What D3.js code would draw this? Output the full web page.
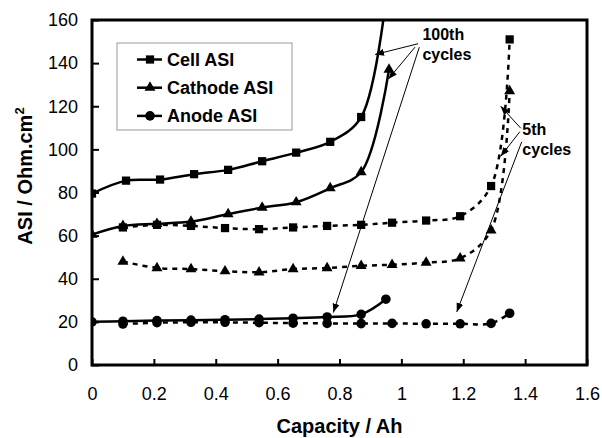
<!DOCTYPE html>
<html>
<head>
<meta charset="utf-8">
<script src="https://cdn.jsdelivr.net/npm/d3@7"></script>
<style>
  body { margin: 0; background: #fff; }
  text { font-family: Arial, "Liberation Sans", sans-serif; }
  .tick text { font-size: 18px; }
  .axis_title { font-size: 20px; font-weight: bold; }
  .legend_text { font-size: 18px; font-weight: bold; }
  .note { font-size: 16px; font-weight: bold; }
</style>
</head>
<body>
<svg id="chart" width="602" height="438"></svg>
<script>

// capacity (Ah) and ASI (Ohm.cm2)
let cap_100th_cell    = [0, 0.11, 0.22, 0.33, 0.44, 0.55, 0.66, 0.77, 0.87, 0.96]
let asi_100th_cell    = [79.5, 85.5, 86, 88.5, 90.5, 94.5, 98.5, 103.5, 115, 182]
let cap_100th_cathode = [0, 0.10, 0.21, 0.32, 0.44, 0.55, 0.66, 0.77, 0.87, 0.96]
let asi_100th_cathode = [60.5, 64.5, 65.5, 66.5, 70, 73, 75.5, 82, 89.5, 137]
let cap_100th_anode   = [0, 0.10, 0.21, 0.32, 0.43, 0.54, 0.65, 0.76, 0.87, 0.95]
let asi_100th_anode   = [20, 20.3, 20.6, 20.8, 21, 21.3, 21.7, 22.3, 23.5, 30.5]

let cap_5th      = [0.10, 0.21, 0.32, 0.43, 0.54, 0.65, 0.76, 0.87, 0.97, 1.08, 1.19, 1.29, 1.35]
let asi_5th_cell    = [63.8, 65, 64.5, 63.5, 63, 63.8, 64.5, 65, 66, 67, 69, 83, 151]
let asi_5th_cathode = [48, 45, 44.5, 43.5, 43, 44.5, 45, 46, 46.5, 47.5, 49.5, 62.5, 127]
let asi_5th_anode   = [19, 19.6, 19.8, 19.8, 19.6, 19.4, 19.3, 19.2, 19.3, 19.1, 19.1, 19.3, 24]

let x_ticks = [0, 0.2, 0.4, 0.6, 0.8, 1, 1.2, 1.4, 1.6]
let y_ticks = [0, 20, 40, 60, 80, 100, 120, 140, 160]
let legend_names = ["Cell ASI", "Cathode ASI", "Anode ASI"]

// annotation arrows in data units: [x1, y1, x2, y2]
let arrows_100th = [[1.054, 149, 0.915, 144], [1.044, 147.4, 0.958, 132.6], [1.058, 147.4, 0.780, 24.3]]
let arrows_5th   = [[1.386, 109.8, 1.321, 120], [1.383, 108.2, 1.321, 96.8], [1.389, 103.5, 1.179, 24.6]]

let margin = {left: 92, right: 15, top: 20, bottom: 73}
let W = 602, H = 438
let w = W - margin.left - margin.right
let h = H - margin.top - margin.bottom

let svg = d3.select('#chart')
let defs = svg.append('defs')

defs.append('clipPath').attr('id', 'plot_clip')
    .append('rect').attr('width', w).attr('height', h)

defs.append('marker')
    .attr('id', 'arrow_head')
    .attr('markerUnits', 'userSpaceOnUse')
    .attr('viewBox', '0 -4 9 8')
    .attr('refX', 9).attr('refY', 0)
    .attr('markerWidth', 9).attr('markerHeight', 8)
    .attr('orient', 'auto')
    .append('path')
        .attr('d', 'M0,-3.5L9,0L0,3.5Z')
        .attr('fill', '#000')

let g = svg.append('g')
    .attr('transform', 'translate(' + margin.left + ',' + margin.top + ')')

let x = d3.scaleLinear().domain([0, 1.6]).range([0, w])
let y = d3.scaleLinear().domain([0, 160]).range([h, 0])

let symbols = [d3.symbolSquare, d3.symbolTriangle, d3.symbolCircle]
let sym_size = [68, 52, 72]

// axes, ticks pointing inward
g.append('g')
    .call(d3.axisLeft(y).tickValues(y_ticks).tickSize(-7).tickPadding(14).tickFormat(d3.format('d')))
    .call(a => a.select('.domain').remove())
    .call(a => a.selectAll('line').attr('stroke-width', 2))

g.append('g')
    .attr('transform', 'translate(0,' + h + ')')
    .call(d3.axisBottom(x).tickValues(x_ticks).tickSize(-6).tickPadding(22).tickFormat(d => d3.format('~g')(d)))
    .call(a => a.select('.domain').remove())
    .call(a => a.selectAll('line').attr('stroke-width', 2))

g.selectAll('.tick text').attr('fill', '#000')

let lineFunc = d3.line()
    .x(d => x(d[0]))
    .y(d => y(d[1]))
    .curve(d3.curveCatmullRom.alpha(0.5))

function add_series(caps, vals, kind, dashed) {
    let data = caps.map((c, i) => [c, vals[i]])
    let grp = g.append('g').attr('clip-path', 'url(#plot_clip)')
    grp.append('path')
        .attr('fill', 'none')
        .attr('stroke', '#000')
        .attr('stroke-width', 2.5)
        .attr('stroke-dasharray', dashed ? '5,5' : null)
        .attr('d', lineFunc(data))
    grp.selectAll('path.pt')
        .data(data.filter(d => d[1] <= 160))
        .join('path')
            .attr('class', 'pt')
            .attr('transform', d => 'translate(' + x(d[0]) + ',' + y(d[1]) + ')')
            .attr('d', d3.symbol().type(symbols[kind]).size(sym_size[kind]))
            .attr('fill', '#000')
}

add_series(cap_5th, asi_5th_cell, 0, true)
add_series(cap_5th, asi_5th_cathode, 1, true)
add_series(cap_5th, asi_5th_anode, 2, true)
add_series(cap_100th_cell, asi_100th_cell, 0, false)
add_series(cap_100th_cathode, asi_100th_cathode, 1, false)
add_series(cap_100th_anode, asi_100th_anode, 2, false)

// frame
g.append('rect')
    .attr('width', w).attr('height', h)
    .attr('fill', 'none').attr('stroke', '#000').attr('stroke-width', 3)

// annotations
function add_note(arrows, lines, tx, ty) {
    g.selectAll(null)
        .data(arrows)
        .join('line')
            .attr('x1', d => x(d[0])).attr('y1', d => y(d[1]))
            .attr('x2', d => x(d[2])).attr('y2', d => y(d[3]))
            .attr('stroke', '#000').attr('stroke-width', 1)
            .attr('marker-end', 'url(#arrow_head)')
    lines.forEach((t, i) => {
        g.append('text').attr('class', 'note')
            .attr('x', x(tx)).attr('y', y(ty[i]))
            .text(t)
    })
}
add_note(arrows_100th, ['100th', 'cycles'], 1.068, [150.6, 141.6])
add_note(arrows_5th, ['5th', 'cycles'], 1.391, [106.8, 97.4])

// legend
let lg = g.append('g').attr('transform', 'translate(25,23)')
lg.append('rect')
    .attr('width', 175).attr('height', 87)
    .attr('fill', '#fff').attr('stroke', '#999').attr('stroke-width', 1)
legend_names.forEach((name, i) => {
    let row = lg.append('g').attr('transform', 'translate(0,' + (16.5 + 28.2 * i) + ')')
    row.append('line')
        .attr('x1', 20).attr('x2', 45)
        .attr('stroke', '#000').attr('stroke-width', 2.5)
    row.append('path')
        .attr('transform', 'translate(33,0)')
        .attr('d', d3.symbol().type(symbols[i]).size(sym_size[i]))
        .attr('fill', '#000')
    row.append('text').attr('class', 'legend_text')
        .attr('x', 50).attr('dy', '0.36em')
        .text(name)
})

// axis titles
svg.append('text').attr('class', 'axis_title')
    .attr('x', margin.left + w / 2).attr('y', 433)
    .attr('text-anchor', 'middle')
    .text('Capacity / Ah')

let yt = svg.append('text').attr('class', 'axis_title')
    .attr('transform', 'translate(32,176) rotate(-90)')
    .attr('text-anchor', 'middle')
yt.append('tspan').text('ASI / Ohm.cm')
yt.append('tspan').attr('dy', -8).style('font-size', '13px').text('2')

</script>
</body>
</html>
